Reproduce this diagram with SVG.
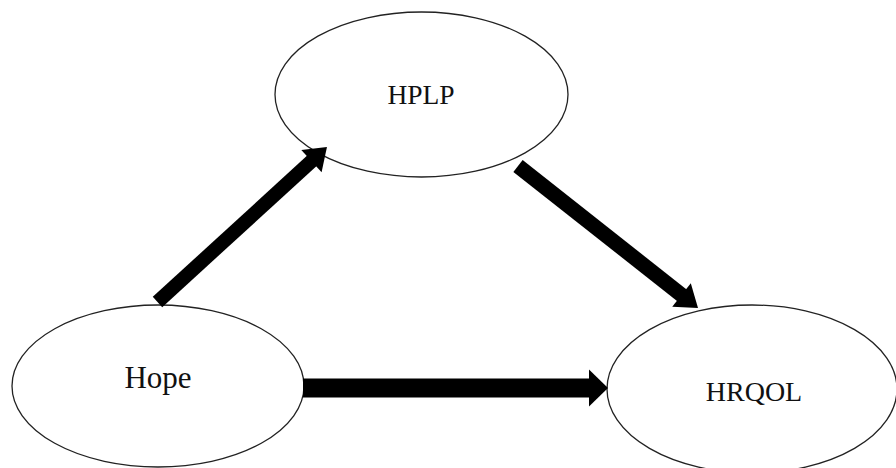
<svg xmlns="http://www.w3.org/2000/svg" width="896" height="468" viewBox="0 0 896 468">
<style>
.node ellipse{fill:#fff;stroke:#222;stroke-width:1.3}
.node text{font-family:"Liberation Serif","Times New Roman",serif;fill:#111;text-anchor:middle}
.conn line{stroke:#000;stroke-linecap:butt}
</style>
<defs>
<marker id="ha" markerUnits="userSpaceOnUse" markerWidth="40" markerHeight="40" refX="0" refY="0" orient="auto" overflow="visible"><path d="M-1,-15 L20,0 L-1,15 z" fill="#000"/></marker>
<marker id="hb" markerUnits="userSpaceOnUse" markerWidth="40" markerHeight="40" refX="0" refY="0" orient="auto" overflow="visible"><path d="M-1,-18.5 L18,0 L-1,18.5 z" fill="#000"/></marker>
</defs>
<rect width="896" height="468" fill="#fff"/>
<g id="hplp" class="node"><ellipse cx="421.5" cy="94.5" rx="146.5" ry="82.5"/><text x="421" y="104" font-size="27.5">HPLP</text></g>
<g id="hope" class="node"><ellipse cx="158" cy="386" rx="146" ry="81"/><text x="158" y="388" font-size="31">Hope</text></g>
<g id="hrqol" class="node"><ellipse cx="752" cy="389" rx="145" ry="84"/><text x="754" y="401" font-size="28">HRQOL</text></g>
<g id="connectors" class="conn">
<line x1="157.5" y1="302" x2="312.2" y2="160.5" stroke-width="14" marker-end="url(#ha)"/>
<line x1="518" y1="166" x2="682.3" y2="295.6" stroke-width="15" marker-end="url(#ha)"/>
<line x1="303" y1="388" x2="590" y2="388" stroke-width="19" marker-end="url(#hb)"/>
</g>
</svg>
